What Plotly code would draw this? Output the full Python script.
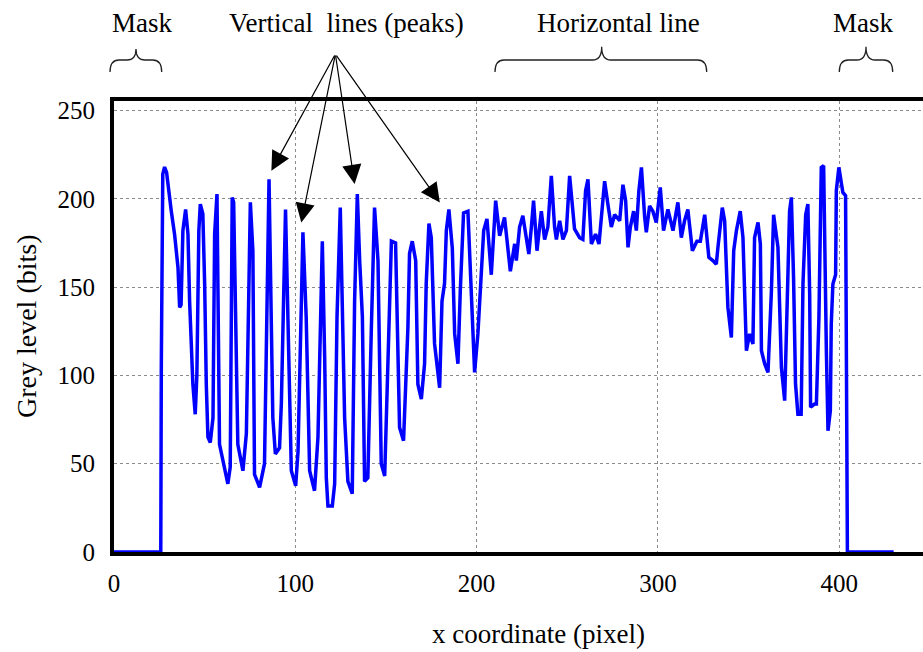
import plotly.graph_objects as go

# Grey-level profile along the x coordinate
x_px = [0, 25.8, 26.1, 26.9, 27.9, 29, 31.6, 33.4, 35.3, 36.2, 37, 38, 39.5, 40.8, 41.7, 42.6, 43.5, 44.8,
        45.7, 46.8, 47.6, 49, 50, 50.9, 51.8, 53.1, 54.6, 55.5, 56.8, 58.2, 61, 62.8, 64.1, 65.2, 66,
        68.3, 71.1, 73, 75.2, 76.6, 77.5, 80.3, 83, 85.5, 87.6, 89, 91.3, 92.3, 94.6, 96.9, 97.8, 100.2,
        101.5, 104.2, 106, 107.9, 110.6, 112.5, 114.9, 116.2, 117.1, 118, 120.4, 121.7, 123, 124.8,
        126.3, 127.2, 129, 131.4, 132.7, 134.2, 135.5, 137, 138.2, 140, 141.9, 143.7, 145.6, 146.5,
        147.4, 149.3, 151.1, 153, 155.3, 156.6, 157.5, 159.7, 162.1, 163, 164.5, 166.4, 167.6, 169.5,
        171.3, 172.2, 173.7, 175, 175.9, 176.8, 179.6, 180.9, 182.3, 183.3, 184.7, 186.6, 187.9, 189.7,
        191, 192.8, 195.2, 197.1, 198.9, 200.7, 202.6, 203.9, 205.7, 208.1, 210.5, 212.7, 215.4, 218.6,
        221, 221.9, 223.7, 225.5, 227.4, 228.8, 230.2, 231.4, 233.3, 235.7, 237.5, 239.3, 241.2, 243,
        244, 245.8, 247.6, 249.5, 251.3, 253.1, 254, 256.8, 258.6, 260.1, 261.4, 263.3, 265.6, 267.5,
        268.8, 270.6, 272.4, 274.3, 276.1, 278.9, 280.7, 282.2, 283.5, 284.8, 286.6, 288.1, 289.5,
        290.9, 292.7, 293.6, 295.4, 297.2, 299.1, 301.3, 303.1, 305.5, 308.3, 311, 312.9, 314.7, 316.5,
        319, 321.5, 323.4, 325.8, 328.1, 330.3, 332.2, 333.1, 335.5, 336.8, 337.7, 338.6, 340.5, 341.8,
        343.3, 345.4, 346.9, 348.2, 348.8, 350.6, 352.4, 353.3, 355.2, 356.5, 357.1, 358.9, 360.7,
        362.6, 363.8, 366.2, 367.1, 368.1, 369.9, 371.7, 372.6, 373.6, 374.8, 375.9, 377.2, 379, 380,
        381.5, 382.7, 383.7, 384.2, 386.4, 387.4, 388.8, 390.1, 391.4, 392, 392.9, 393.8, 395.1, 395.6,
        396.5, 398, 398.4, 399.8, 401.2, 402, 403.5, 404.3, 404.5, 430]
grey = [0, 0, 106, 214, 218, 215, 193, 180, 161, 138.5, 140, 182, 194, 180, 142, 116, 95, 78,
        100, 182, 197, 191.5, 152, 95, 65, 62, 76, 180, 202.7, 61, 46, 38.6, 48, 200.8, 198,
        61, 46, 67, 198, 170.6, 44, 36.6, 50, 211, 76, 55.5, 59, 84, 194, 91, 46, 37.5,
        57, 181, 133, 46, 34.7, 65, 176, 110, 42, 26, 26, 38.6, 133, 195,
        127, 76, 40, 33, 142, 202.7, 165, 133, 40, 42, 125, 195, 165, 95,
        50, 43, 114, 176, 175, 104.5, 70.5, 63, 127, 169, 176, 165, 95, 86.6,
        106.6, 152, 186, 178, 142, 118, 93, 142, 152, 182, 194, 172, 123.5, 106.6,
        148, 192, 193, 148, 101.7, 123.5, 155.5, 182, 188.6, 157, 199, 179, 189.5, 159,
        174.5, 165, 184, 190.4, 178, 168.7, 184, 199, 170.6, 193, 177, 184, 213, 184,
        177, 187.6, 177, 182, 213, 193, 183, 178, 177, 204.6, 211, 174.4, 180, 174.4,
        189.5, 210, 197, 184, 191, 187.6, 208, 199, 172.5, 184, 193, 182, 204.6,
        217.8, 189.5, 181, 196, 193, 186.6, 206.5, 182, 194, 182, 198, 178, 187.6, 194,
        170.6, 176, 176, 191, 166.8, 165, 163, 172.5, 195, 187.6, 157, 138.5, 121.5, 170.6,
        182, 193, 178, 133, 114, 123.5, 117.8, 178, 186.6, 174.4, 114, 106.5, 101.7,
        148, 191, 172.5, 136.6, 104.5, 85.7, 148, 193, 200.8, 155.5, 95, 78, 78, 151.8,
        191, 197, 146, 82, 83.8, 83.8, 133, 217.8, 218.7, 170.6, 114, 68.7, 80, 129,
        151.8, 157, 204.6, 217.8, 208.4, 203.6, 201.8, 70.5, 0, 0]

x_ticks = [0, 100, 200, 300, 400]
y_ticks = [0, 50, 100, 150, 200, 250]

# Arrow targets (peaks) and common arrow origin, in data units
peak_x = [86.8, 103.3, 132.7, 179.7]
peak_y = [215.9, 186.6, 208.4, 197.9]
arrow_origin = (122.1, 282.0)

FONT = "Liberation Serif"
W, H = 923, 652
ML, MR, MT, MB = 114, 0, 101, 100

fig = go.Figure()
fig.add_trace(go.Scatter(x=x_px, y=grey, mode="lines",
                         line=dict(color="#0000ff", width=3.5),
                         showlegend=False, hoverinfo="skip"))

def px2paper(px, py):
    pw = W - ML - MR
    ph = H - MT - MB
    return (px - ML) / pw, (H - MB - py) / ph

def brace(x0, x1, xc, ytop, ybar, yend):
    pts = {
        "a": px2paper(x0, yend), "b": px2paper(x0, ybar), "c": px2paper(x0 + 9, ybar),
        "d": px2paper(xc - 9, ybar), "e": px2paper(xc, ybar), "f": px2paper(xc, ytop),
        "g": px2paper(xc + 9, ybar), "h": px2paper(x1 - 9, ybar), "i": px2paper(x1, ybar),
        "j": px2paper(x1, yend),
    }
    f = lambda k: f"{pts[k][0]:.5f},{pts[k][1]:.5f}"
    path = (f"M{f('a')} Q{f('b')} {f('c')} L{f('d')} Q{f('e')} {f('f')} "
            f"Q{f('e')} {f('g')} L{f('h')} Q{f('i')} {f('j')}")
    return dict(type="path", xref="paper", yref="paper", path=path,
                line=dict(color="#222222", width=1.3))

shapes = [
    brace(110, 161.7, 136, 49, 60, 72),
    brace(495, 706.7, 601.7, 46.7, 60, 72),
    brace(839.3, 892.7, 866, 46.7, 60, 72),
]

annotations = []
for txt, px in [("Mask", 142), ("Vertical  lines (peaks)", 346),
                ("Horizontal line", 618), ("Mask", 862.7)]:
    xp, yp = px2paper(px, 23)
    annotations.append(dict(text=txt, x=xp, y=yp, xref="paper", yref="paper",
                            showarrow=False, xanchor="center", yanchor="middle",
                            font=dict(family=FONT, size=27, color="black")))

for xv, yv in zip(peak_x, peak_y):
    annotations.append(dict(text="", x=xv, y=yv, xref="x", yref="y",
                            ax=arrow_origin[0], ay=arrow_origin[1], axref="x", ayref="y",
                            showarrow=True, arrowhead=2, arrowsize=3.2, arrowwidth=1.2,
                            arrowcolor="black", standoff=0))

xp, yp = px2paper(538, 634)
annotations.append(dict(text="x coordinate (pixel)", x=xp, y=yp, xref="paper", yref="paper",
                        showarrow=False, xanchor="center", yanchor="middle",
                        font=dict(family=FONT, size=27, color="black")))
xp, yp = px2paper(26, 326)
annotations.append(dict(text="Grey level (bits)", x=xp, y=yp, xref="paper", yref="paper",
                        showarrow=False, xanchor="center", yanchor="middle", textangle=-90,
                        font=dict(family=FONT, size=28, color="black")))

fig.update_layout(
    width=W, height=H,
    margin=dict(l=ML, r=MR, t=MT, b=MB),
    paper_bgcolor="white", plot_bgcolor="white",
    font=dict(family=FONT, size=24, color="black"),
    shapes=shapes, annotations=annotations,
    xaxis=dict(range=[0, 446.2], tickvals=x_ticks, ticktext=[str(v) for v in x_ticks],
               showline=True, linecolor="black", linewidth=4, mirror=True,
               showgrid=True, gridcolor="#8a8a8a", gridwidth=1, griddash="dot",
               zeroline=False, ticks="", ticklabelstandoff=6, layer="below traces",
               tickfont=dict(family=FONT, size=25, color="black")),
    yaxis=dict(range=[0, 255.4], tickvals=y_ticks, ticktext=[str(v) for v in y_ticks],
               showline=True, linecolor="black", linewidth=4, mirror=False,
               showgrid=True, gridcolor="#8a8a8a", gridwidth=1, griddash="dot",
               zeroline=False, ticks="", ticklabelstandoff=10, layer="below traces",
               tickfont=dict(family=FONT, size=25, color="black")),
)

fig.write_html("out.html")
